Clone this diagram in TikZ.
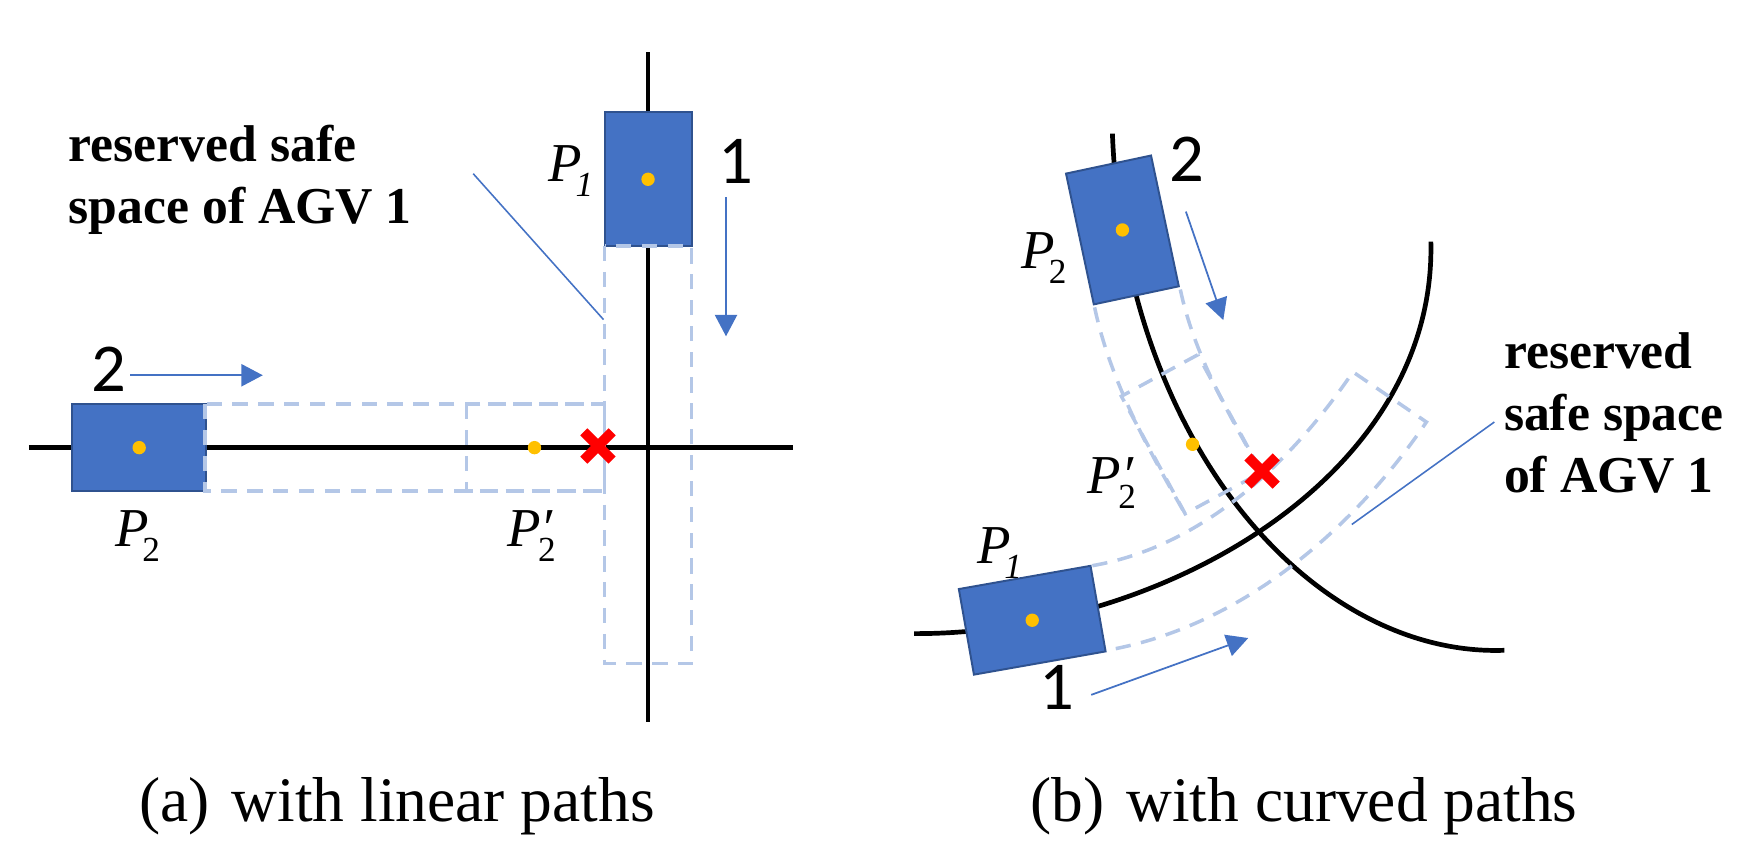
\documentclass[tikz,border=0pt]{standalone}
\usepackage{fontspec}
\setmainfont{Liberation Serif}
\newfontfamily\numfont{Carlito}
\usetikzlibrary{arrows.meta,positioning}

\definecolor{agvblue}{HTML}{4472C4}
\definecolor{agvedge}{HTML}{2F528F}
\definecolor{safeblue}{HTML}{B4C7E7}
\definecolor{dotyellow}{HTML}{FFC000}

\newcommand{\Psub}[1]{\textit{P}\kern-0.12em\raisebox{-0.27em}{\fontsize{9}{9}\selectfont #1}}
\newcommand{\Pdash}[1]{\textit{P}\rlap{\textit{′}}\kern-0.05em\raisebox{-0.27em}{\fontsize{9}{9}\selectfont #1}}

\tikzset{
  agv/.style={draw=agvedge,fill=agvblue,line width=0.5pt,minimum width=0.78cm,minimum height=1.2cm,inner sep=0pt},
  ctr/.style={circle,fill=dotyellow,inner sep=0pt,minimum size=0.12cm},
  safe/.style={draw=safeblue,line width=0.9pt,dash pattern=on 3.9pt off 2.7pt},
  track/.style={line width=1.2pt},
  lead/.style={draw=agvblue,line width=0.4pt},
  move/.style={draw=agvblue,line width=0.45pt,->},
  clash/.style={red,line width=2.56pt},
  agvnum/.style={font=\numfont\fontsize{17.5}{20}\selectfont,inner sep=0pt,anchor=base},
  plabel/.style={font=\fontsize{14}{16}\selectfont,inner sep=0pt,anchor=base west},
  safenote/.style={font=\bfseries\fontsize{13.2}{15.9}\selectfont,align=left,inner sep=0pt,anchor=base west},
  capt/.style={font=\fontsize{16.2}{19}\selectfont,inner sep=0pt,anchor=base},
}

\begin{document}
\begin{tikzpicture}[x=0.01cm,y=-0.01cm,>={Triangle[length=5.5pt,width=5.7pt]}]
\useasboundingbox (0,0) rectangle (1568,760);

% (a) linear paths
\draw[track] (26,402) -- (712,402);
\draw[track] (582,47) -- (582,648);
\node[agv] (p1a) at (582,161) {};
\node[agv,rotate=90] (p2a) at (125,402) {};
\draw[safe] (184,363) rectangle (543,441);
\draw[safe] (419,363) rectangle (543,441);
\draw[safe] (543,221) rectangle (621,596);
\node[ctr] (c1a) at (p1a) {};
\node[ctr] (c2a) at (p2a) {};
\node[ctr] (q2a) at (480,402) {};
\draw[clash] (537,400.5) ++(-12.7,-12.7) -- ++(25.4,25.4) ++(0,-25.4) -- ++(-25.4,25.4);

\node[plabel] (l1a) at (492,163) {\Psub{\textit{1}}};
\node[plabel] (l2a) at (103,491) {\Psub{2}};
\node[plabel] (k2a) at (455,491) {\Pdash{2}};
\node[agvnum] (n1a) at (661,165) {1};
\node[agvnum] (n2a) at (97.5,352) {2};
\draw[move] (652,177) -- (652,302);
\draw[move] (117,337) -- (236,337);

\node[safenote] (safea) at (61,200.6) {reserved safe\\space of AGV 1};
\draw[lead] (425,156) -- (542,287);

\node[capt] (capa) at (356.5,738) {(a)\hspace{0.1em} with linear paths};

% (b) curved paths
\draw[track] (999,120) .. controls (1010,400) and (1180,590) .. (1351,584);
\draw[track] (821,569) .. controls (1040,570) and (1290,430) .. (1285,217);
\node[agv,rotate=12] (p2b) at (1008,206.5) {};
\node[agv,rotate=-80] (p1b) at (927,557) {};
\draw[safe] (983,276) .. controls (996.7,340.5) and (1030,401.8) .. (1064,461);
\draw[safe] (1060,260) .. controls (1072,316.7) and (1102,369.8) .. (1133,424);
\node[safe,rotate=28.5,minimum width=0.78cm,minimum height=1.2cm] (q2b) at (1070,390) {};
\draw[safe] (981,508) .. controls (1079,491) and (1159,416.5) .. (1215,334)
  -- (1281,379) .. controls (1213.6,478) and (1112,563.4) .. (994,584);
\node[ctr] (c2b) at (p2b) {};
\node[ctr] (c1b) at (p1b) {};
\node[ctr] (k2b) at (1071,399) {};
\draw[clash] (1133.4,423) ++(-12.7,-12.7) -- ++(25.4,25.4) ++(0,-25.4) -- ++(-25.4,25.4);

\node[plabel] (l2b) at (917,241) {\Psub{2}};
\node[plabel] (m2b) at (976,443) {\Pdash{2}};
\node[plabel] (l1b) at (877,506) {\Psub{\textit{1}}};
\node[agvnum] (n2b) at (1065.6,163) {2};
\node[agvnum] (n1b) at (949,637.6) {1};
\draw[move] (1065,190) -- (1098.6,287.4);
\draw[move] (980,624) -- (1121,573);

\node[safenote] (safeb) at (1350,442.5) {reserved\\safe space\\of AGV 1};
\draw[lead] (1342,379) -- (1214,471);

\node[capt] (capb) at (1171,738) {(b)\hspace{0.1em} with curved paths};
\end{tikzpicture}
\end{document}
